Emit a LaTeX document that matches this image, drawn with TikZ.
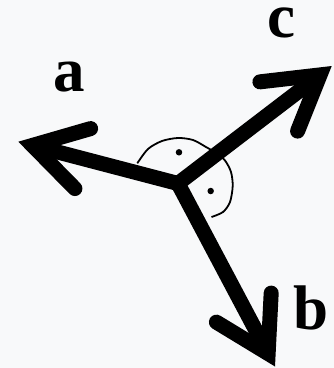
\documentclass[tikz,border=0pt]{standalone}
\usepackage{fontspec}
\setmainfont{Liberation Serif}
\usepackage{tikz}
\usetikzlibrary{arrows.meta}

\definecolor{bgcol}{RGB}{248,249,250}

\begin{document}
\begin{tikzpicture}[x=1pt, y=-1pt,
    >={Straight Barb[length=52pt, width=62pt, line cap=round, line join=miter]},
    vec/.style={line width=15pt, line join=miter},
    lbl/.style={inner sep=0pt, font=\fontsize{63}{63}\selectfont\bfseries},
    dot/.style={fill, circle, inner sep=0pt, minimum size=6.5pt},
    angarc/.style={line width=1.8pt}
  ]
    \fill[bgcol] (0,0) rectangle (334,368);
    \useasboundingbox (0,0) rectangle (334,368);
    \coordinate (o) at (178,183.5);
    \coordinate (a) at (18.3,141.7);
    \coordinate (b) at (275,366.5);
    \coordinate (c) at (331.7,66);
    % right angle marks
    \draw[angarc] plot[smooth] coordinates {(137.3,163.3) (148,149) (162,141) (178,138)
      (193,140) (206,147) (216,153) (225,160.5) (231,172) (232.7,186) (230,202)
      (223,212) (211.5,217)};
    \node[dot] (dac) at (179,152.3) {};
    \node[dot] (dcb) at (210.7,191) {};
    % vectors
    \draw[vec, <->] (a) -- (o) -- (b);
    \draw[vec, ->] (o) -- (c);
    \node[lbl] (la) at (69,77.5) {a};
    \node[lbl] (lb) at (310.8,307.5) {b};
    \node[lbl] (lc) at (281.7,23) {c};
\end{tikzpicture}
\end{document}
